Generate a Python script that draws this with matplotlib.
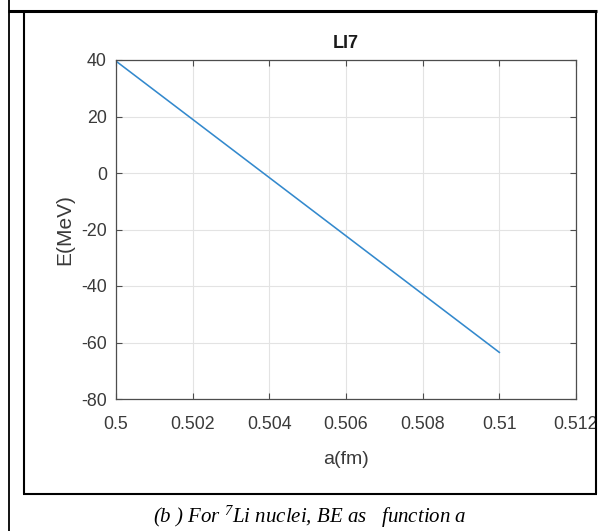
#E vs a for Li7, redrawn from MATLAB figure

import numpy as np
import matplotlib.pyplot as plt
from matplotlib.lines import Line2D

plt.rcParams['font.family'] = ['Liberation Sans', 'DejaVu Sans']
plt.rcParams['axes.unicode_minus'] = False
plt.rcParams['mathtext.fontset'] = 'custom'
plt.rcParams['mathtext.rm'] = 'Liberation Serif:italic'
plt.rcParams['mathtext.it'] = 'Liberation Serif:italic'

#data
a_fm  = [0.500, 0.510]       #radius parameter a (fm)
e_mev = [39.6, -63.5]        #energy E (MeV)

xticks = [0.5, 0.502, 0.504, 0.506, 0.508, 0.51, 0.512]
xlabs  = ['0.5', '0.502', '0.504', '0.506', '0.508', '0.51', '0.512']
yticks = [-80, -60, -40, -20, 0, 20, 40]

W, H = 600, 531
fig = plt.figure(figsize=(W / 100, H / 100), dpi=100)

def px(x, y):
    return x / W, 1 - y / H

#table borders
def fline(x0, y0, x1, y1, lw):
    p0 = px(x0, y0)
    p1 = px(x1, y1)
    fig.add_artist(Line2D([p0[0], p1[0]], [p0[1], p1[1]], color='black', lw=lw,
                          transform=fig.transFigure, solid_capstyle='butt'))

fline(8.8, 0, 8.8, H, 1.3)        #outer table left edge
fline(8, 11, 597, 11, 2.2)        #row separator
fline(24, 11, 24, 494, 1.5)       #figure box
fline(596.3, 11, 596.3, 494, 1.5)
fline(23, 494, 597, 494, 1.5)

#axes
ax = fig.add_axes([116 / W, 1 - 399 / H, (576 - 116) / W, (399 - 60) / H])
ax.plot(a_fm, e_mev, color='#3389cd', lw=1.15)

ax.set_xlim(0.5, 0.512)
ax.set_ylim(-80, 40)
ax.set_xticks(xticks)
ax.set_xticklabels(xlabs)
ax.set_yticks(yticks)
ax.grid(True, color='#e3e3e3', lw=0.8)
ax.set_axisbelow(True)
for s in ax.spines.values():
    s.set_color('#4d4d4d')
    s.set_linewidth(0.9)
ax.tick_params(direction='in', length=4, color='#4d4d4d', labelcolor='#3a3a3a',
               labelsize=12.8, top=True, right=True, labeltop=False, labelright=False)
ax.tick_params(axis='x', pad=12.5)
ax.tick_params(axis='y', pad=6.5)

ax.set_title('LI7', fontsize=13, fontweight='bold', color='#1a1a1a', pad=8.5)
ax.set_xlabel('a(fm)', fontsize=14, color='#3a3a3a', labelpad=13)
ax.set_ylabel('E(MeV)', fontsize=15, color='#3a3a3a', labelpad=5)

#caption under the box
cx, cy = px(310, 523)
fig.text(cx, cy, '(b ) For $^{7}$Li nuclei, BE as   function a', ha='center', va='baseline',
         fontsize=15, family='Liberation Serif', style='italic', color='black')

plt.savefig('out.png', dpi=100)
